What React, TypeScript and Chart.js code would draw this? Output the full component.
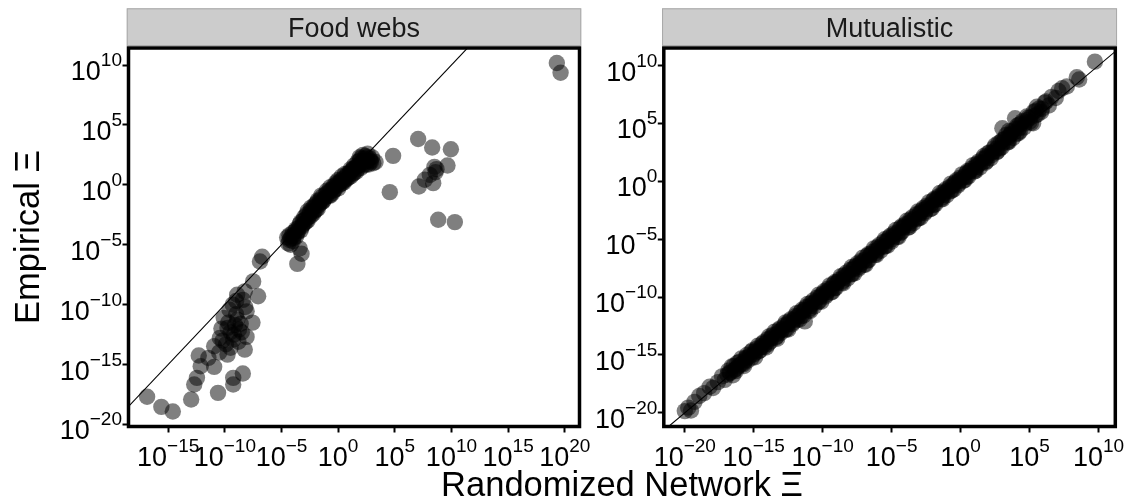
import React, { useEffect, useRef } from "react";
import { Chart, registerables } from "chart.js";

Chart.register(...registerables);

const W = 1130;
const H = 504;
const FONT = '"Liberation Sans", Arial, Helvetica, sans-serif';

// ---------------- data: [log10 randomized Ξ, log10 empirical Ξ] ----------------
const foodWebsLogPoints: [number, number][] = [
  // far right
  [19.3, 10.17], [19.63, 9.36],
  // scattered right-hand group
  [4.56, -0.61], [4.85, 2.42], [7.06, 3.83], [8.3, 3.11], [9.95, 2.97], [9.65, 1.61],
  [8.68, 1.31], [8.5, 1.5], [8.6, 1.05], [8.09, 0.83], [7.65, 0.42], [7.12, -0.14],
  [8.39, 0.14], [8.83, -2.92], [10.3, -3.11],
  // dense band
  [-4.4, -4.9], [-4.2, -4.5], [-4.0, -4.7], [-3.9, -4.2], [-3.8, -3.9], [-3.6, -4.0],
  [-3.5, -3.6], [-3.4, -3.3], [-3.2, -3.5], [-3.1, -3.0], [-2.9, -2.9], [-2.8, -2.5],
  [-2.6, -2.7], [-2.5, -2.3], [-2.3, -2.0], [-2.2, -2.4], [-2.0, -1.8], [-1.9, -1.5],
  [-1.7, -1.7], [-1.6, -1.3], [-1.4, -1.0], [-1.3, -1.3], [-1.1, -0.8], [-0.9, -0.6],
  [-0.8, -0.9], [-0.6, -0.4], [-0.4, -0.1], [-0.3, -0.4], [-0.1, 0.1], [0.1, 0.0],
  [0.2, 0.3], [0.4, 0.5], [0.5, 0.2], [0.7, 0.7], [0.9, 0.6], [1.0, 0.9], [1.2, 1.2],
  [1.3, 0.9], [1.5, 1.4], [1.6, 1.1], [1.8, 1.6], [2.0, 1.4], [2.1, 1.9], [2.3, 2.2],
  [2.5, 1.7], [2.6, 2.0], [2.2, 2.5], [2.9, 1.9], [3.1, 1.8], [1.9, 2.0], [-0.5, -0.7],
  [0.0, -0.3], [-2.1, -2.2], [-3.0, -3.2], [-4.1, -4.3],
  [-4.3, -4.6], [-4.0, -4.0], [-3.7, -3.7], [-3.7, -4.3], [-3.3, -3.8], [-3.3, -3.1],
  [-3.0, -2.7], [-2.7, -3.0], [-2.7, -2.2], [-2.4, -2.6], [-2.4, -1.9], [-2.1, -1.7],
  [-1.8, -2.0], [-1.8, -1.3], [-1.5, -1.5], [-1.5, -0.9], [-1.2, -1.1], [-1.0, -0.5],
  [-0.7, -0.9], [-0.7, -0.2], [-0.4, -0.5], [-0.2, 0.2], [0.0, 0.4], [0.3, 0.1],
  [0.3, 0.7], [0.6, 0.4], [0.6, 0.9], [0.8, 0.9], [1.1, 0.7], [1.1, 1.3], [1.4, 1.0],
  [1.4, 1.6], [1.7, 1.3], [1.7, 1.9], [2.0, 1.7], [2.0, 2.2], [2.4, 1.9], [2.4, 2.4],
  [2.7, 1.7], [2.8, 2.2], [3.3, 1.9], [2.2, 1.6], [-4.5, -4.4], [-4.2, -5.0],
  [-4.3, -4.2], [-3.95, -4.45], [-3.55, -3.85], [-3.15, -3.35], [-2.85, -3.1], [-2.55, -2.5],
  [-2.25, -2.15], [-1.95, -2.1], [-1.65, -1.5], [-1.35, -1.4], [-1.05, -1.0], [-0.75, -0.6],
  [-0.45, -0.3], [-0.15, -0.1], [0.15, 0.2], [0.45, 0.3], [0.75, 0.5], [1.05, 1.05],
  [1.35, 1.35], [1.65, 1.55], [1.95, 1.8], [2.25, 2.0], [2.55, 2.3], [2.85, 2.0],
  [3.0, 2.3], [1.9, 2.3], [2.6, 2.6],
  // just below the band
  [-3.23, -5.75], [-3.6, -6.6], [-3.4, -5.3], [-6.9, -6.4], [-6.7, -6.0],
  // lower cluster
  [-7.5, -8.06], [-8.24, -8.89], [-7.06, -9.3], [-8.91, -9.17], [-8.08, -10.56],
  [-9.59, -10.42], [-10.1, -11.1], [-8.9, -11.25], [-7.56, -11.5], [-9.76, -11.94],
  [-8.75, -12.08], [-10.44, -12.78], [-8.08, -12.69], [-9.26, -12.92], [-10.94, -13.47],
  [-9.76, -14.17], [-8.24, -13.75], [-12.3, -14.25], [-11.45, -14.44], [-12.13, -15.14],
  [-10.94, -15.19], [-8.41, -15.75], [-12.46, -16.11], [-9.26, -16.11], [-12.7, -16.67],
  [-9.26, -16.67], [-10.6, -17.36], [-12.97, -17.92], [-16.86, -17.69], [-15.6, -18.53],
  [-14.59, -18.92], [-9.3, -10.0], [-9.0, -10.8], [-8.6, -11.6], [-9.5, -12.3],
  [-8.4, -9.6], [-10.3, -12.0], [-9.9, -13.3], [-8.8, -13.1], [-10.5, -14.0],
  [-9.0, -9.7], [-9.7, -11.5], [-8.2, -10.2], [-9.2, -12.5], [-8.5, -12.3],
  [-9.5, -13.6], [-10.2, -13.0], [-9.1, -11.7],
];

const mutualisticLogPoints: [number, number][] = [
  [-20.0, -19.85], [-19.75, -19.55], [-19.55, -19.8], [-19.3, -19.05], [-18.95, -18.55],
  [-18.6, -18.3], [-18.2, -17.75], [-17.95, -17.85], [-17.6, -17.35], [-17.3, -16.85],
  [-17.1, -17.15], [-16.85, -16.35], [-16.7, -16.55], [-16.45, -15.95], [-16.3, -16.2],
  [-16.05, -15.6], [-15.85, -15.75], [-15.6, -15.25], [-15.45, -15.5], [-15.2, -14.75],
  [-15.0, -14.95], [-14.8, -14.45], [-14.65, -14.7], [-14.4, -14.05], [-14.25, -14.3],
  [-14.0, -13.65], [-13.8, -13.85], [-13.65, -13.3], [-13.4, -13.5], [-13.2, -12.85],
  [-13.05, -13.1], [-12.8, -12.45], [-12.6, -12.75], [-12.45, -12.1], [-12.2, -12.35],
  [-12.0, -11.65], [-11.85, -11.95], [-11.6, -11.3], [-11.4, -11.6], [-11.3, -12.1],
  [-11.2, -10.85], [-11.0, -11.15], [-10.85, -10.5], [-10.6, -10.8], [-10.4, -10.05],
  [-10.25, -10.35], [-10.0, -9.7], [-9.8, -9.95], [-9.65, -9.3], [-9.4, -9.6],
  [-9.2, -8.85], [-9.05, -9.2], [-8.8, -8.5], [-8.6, -8.75], [-8.45, -8.1],
  [-8.2, -8.4], [-8.0, -7.65], [-7.85, -8.0], [-7.6, -7.3], [-7.4, -7.55],
  [-7.25, -6.9], [-7.0, -7.2], [-6.8, -6.45], [-6.65, -6.8], [-6.4, -6.1],
  [-6.2, -6.35], [-6.05, -5.7], [-5.8, -6.0], [-5.6, -5.25], [-5.45, -5.6],
  [-5.2, -4.85], [-5.0, -5.2], [-4.85, -4.5], [-4.6, -4.8], [-4.4, -4.05],
  [-4.25, -4.35], [-4.0, -3.7], [-3.8, -4.0], [-3.65, -3.3], [-3.4, -3.6],
  [-3.2, -2.85], [-3.05, -3.2], [-2.8, -2.5], [-2.6, -2.75], [-2.45, -2.1],
  [-2.2, -2.4], [-2.0, -1.65], [-1.85, -2.0], [-1.6, -1.3], [-1.4, -1.55],
  [-1.25, -0.9], [-1.0, -1.2], [-0.8, -0.5], [-0.65, -0.8], [-0.4, -0.1],
  [-0.2, -0.35], [-0.05, 0.3], [0.2, 0.05], [0.4, 0.7], [0.55, 0.4],
  [0.8, 1.1], [1.0, 0.85], [1.15, 1.5], [1.4, 1.2], [1.6, 1.95],
  [1.8, 1.6], [1.95, 2.4], [2.2, 2.0], [2.4, 2.85], [2.6, 2.5],
  [2.75, 3.3], [3.0, 2.95], [3.03, 4.59], [3.2, 3.65], [3.4, 3.35],
  [3.5, 4.35], [3.6, 4.0], [3.8, 3.75], [3.95, 5.45], [4.0, 4.55],
  [4.2, 4.15], [4.4, 5.0], [4.6, 4.65], [4.8, 5.6], [5.0, 5.15],
  [5.26, 5.02], [5.53, 6.45], [5.6, 5.8], [5.9, 6.25], [6.1, 6.8],
  [6.4, 6.55], [6.6, 7.3], [6.9, 7.2], [7.1, 7.8], [7.37, 8.04],
  [7.7, 8.2], [8.43, 8.99], [8.6, 8.8], [9.74, 10.34],
  [-16.6, -16.0], [-16.2, -15.7], [-15.9, -15.3], [-15.5, -15.0], [-15.1, -14.6],
  [-14.7, -14.2], [-14.3, -13.9], [-13.9, -13.4], [-13.5, -13.0], [-13.1, -12.7],
  [-12.7, -12.2], [-12.3, -11.9], [-11.9, -11.4], [-11.5, -11.1], [-11.1, -10.6],
  [-10.7, -10.3], [-10.3, -9.8], [-9.9, -9.5], [-9.5, -9.0], [-9.1, -8.7],
  [-8.7, -8.2], [-8.3, -7.9], [-7.9, -7.4], [-7.5, -7.1], [-7.1, -6.6],
  [-6.7, -6.3], [-6.3, -5.8], [-5.9, -5.5], [-5.5, -5.0], [-5.1, -4.7],
  [-4.7, -4.2], [-4.3, -3.9], [-3.9, -3.4], [-3.5, -3.1], [-3.1, -2.6],
  [-2.7, -2.3], [-2.3, -1.8], [-1.9, -1.5], [-1.5, -1.0], [-1.1, -0.7],
  [-0.7, -0.2], [-0.3, 0.1], [0.1, 0.6], [0.5, 0.9], [0.9, 1.4],
  [1.3, 1.7], [1.7, 2.2], [2.1, 2.5], [2.5, 3.1], [2.9, 3.4],
  [3.3, 4.0], [3.7, 4.3], [4.1, 4.8], [4.5, 5.2], [4.9, 5.5],
  [5.3, 6.0], [5.7, 6.3], [6.2, 6.9],
  [-16.5, -16.75], [-15.7, -15.95], [-14.9, -15.2], [-14.1, -14.35], [-13.3, -13.6],
  [-12.5, -12.8], [-11.7, -11.95], [-10.9, -11.2], [-10.1, -10.4], [-9.3, -9.55],
  [-8.5, -8.8], [-7.7, -7.95], [-6.9, -7.2], [-6.1, -6.35], [-5.3, -5.55],
  [-4.5, -4.8], [-3.7, -3.95], [-2.9, -3.15], [-2.1, -2.35], [-1.3, -1.55],
  [-0.5, -0.7], [0.3, 0.1], [1.1, 0.9], [1.9, 1.75], [2.7, 2.6],
  [3.5, 3.4], [4.3, 4.3], [5.1, 5.05],
  [-16.9, -16.7], [-16.4, -16.3], [-16.0, -15.85], [-15.6, -15.45], [-15.3, -15.1],
  [-14.9, -14.8], [-14.5, -14.35], [-14.1, -13.95], [-13.75, -13.6], [-13.35, -13.2],
  [-12.95, -12.8], [-12.55, -12.4], [-12.15, -12.0], [-11.75, -11.6], [-11.35, -11.2],
  [-10.95, -10.8], [-10.55, -10.4], [-10.15, -10.0], [-9.75, -9.6], [-9.35, -9.2],
  [-8.95, -8.8], [-8.55, -8.4], [-8.15, -8.0], [-7.75, -7.6], [-7.35, -7.2],
  [-6.95, -6.8], [-6.55, -6.4], [-6.15, -6.0], [-5.75, -5.6], [-5.35, -5.2],
  [-4.95, -4.8], [-4.55, -4.4], [-4.15, -4.0], [-3.75, -3.6], [-3.35, -3.2],
  [-2.95, -2.8], [-2.55, -2.4], [-2.15, -2.0], [-1.75, -1.6], [-1.35, -1.2],
  [-0.95, -0.8], [-0.55, -0.4], [-0.15, 0.0], [0.25, 0.4], [0.65, 0.8],
  [1.05, 1.2], [1.45, 1.6], [1.85, 2.0], [2.25, 2.45], [2.65, 2.85],
  [3.05, 3.3], [3.45, 3.8], [3.85, 4.2], [4.25, 4.6], [4.65, 5.0],
  [5.05, 5.5], [5.45, 5.7], [5.85, 6.0],
  [-16.75, -16.5], [-16.15, -16.0], [-15.55, -15.3], [-14.95, -14.7], [-14.35, -14.2],
  [-13.75, -13.5], [-13.15, -13.0], [-12.55, -12.3], [-11.95, -11.8], [-11.35, -11.1],
  [-10.75, -10.6], [-10.15, -9.9], [-9.55, -9.4], [-8.95, -8.7], [-8.35, -8.2],
  [-7.75, -7.5], [-7.15, -7.0], [-6.55, -6.3], [-5.95, -5.8], [-5.35, -5.1],
  [-4.75, -4.6], [-4.15, -3.9], [-3.55, -3.4], [-2.95, -2.7], [-2.35, -2.2],
  [-1.75, -1.5], [-1.15, -1.0], [-0.55, -0.3], [0.05, 0.2], [0.65, 0.9],
  [1.25, 1.4], [1.85, 2.1], [2.45, 2.6], [3.05, 3.6], [3.65, 4.1],
  [4.25, 4.9], [4.85, 5.3], [5.45, 6.1],
  [-16.3, -16.4], [-15.75, -15.8], [-15.15, -15.25], [-14.55, -14.6], [-13.95, -14.05],
  [-13.35, -13.4], [-12.75, -12.85], [-12.15, -12.2], [-11.55, -11.65], [-10.95, -11.0],
  [-10.35, -10.45], [-9.75, -9.8], [-9.15, -9.25], [-8.55, -8.6], [-7.95, -8.05],
  [-7.35, -7.4], [-6.75, -6.85], [-6.15, -6.2], [-5.55, -5.65], [-4.95, -5.0],
  [-4.35, -4.45], [-3.75, -3.8], [-3.15, -3.25], [-2.55, -2.6], [-1.95, -2.05],
  [-1.35, -1.4], [-0.75, -0.85], [-0.15, -0.2], [0.45, 0.4], [1.05, 1.0],
  [1.65, 1.65], [2.25, 2.25], [2.85, 2.85], [3.45, 3.5], [4.05, 4.1],
];

const identityLineLog = [-30, 30];

const foodWebsXTicks = [-15, -10, -5, 0, 5, 10, 15, 20];
const foodWebsYTicks = [-20, -15, -10, -5, 0, 5, 10];
const mutualisticXTicks = [-20, -15, -10, -5, 0, 5, 10];
const mutualisticYTicks = [-20, -15, -10, -5, 0, 5, 10];

const foodWebsXLimits = [-18.5, 21.3];
const foodWebsYLimits = [-20.17, 11.42];
const mutualisticXLimits = [-21.5, 11.22];
const mutualisticYLimits = [-21.18, 11.52];

const panelTitles = ["Food webs", "Mutualistic"];
const xAxisTitle = "Randomized Network Ξ";
const yAxisTitle = "Empirical Ξ";

// ---------------- style ----------------
const TICK_SIZE = 27;
const EXP_SIZE = 19;
const EXP_RAISE = 14;
const STRIP_SIZE = 27;
const TITLE_SIZE = 34.5;
const X_AXIS_H = 10;

type Area = { left: number; right: number; top: number; bottom: number };
type PanelCfg = {
  title: string;
  points: [number, number][];
  xTicks: number[];
  yTicks: number[];
  xLim: number[];
  yLim: number[];
  area: Area;
  axisTitles: boolean;
};

function expText(e: number) {
  return e < 0 ? "\u2212" + Math.abs(e) : String(e);
}

function drawPow(ctx: CanvasRenderingContext2D, e: number, x: number, y: number, align: "center" | "right") {
  const base = "10";
  const ex = expText(e);
  ctx.font = `${TICK_SIZE}px ${FONT}`;
  const wb = ctx.measureText(base).width;
  ctx.font = `${EXP_SIZE}px ${FONT}`;
  const we = ctx.measureText(ex).width;
  const w = wb + we;
  const x0 = align === "center" ? x - w / 2 : x - w;
  ctx.textAlign = "left";
  ctx.textBaseline = "alphabetic";
  ctx.font = `${TICK_SIZE}px ${FONT}`;
  ctx.fillText(base, x0, y);
  ctx.font = `${EXP_SIZE}px ${FONT}`;
  ctx.fillText(ex, x0 + wb, y - EXP_RAISE);
}

function panelPlugin(cfg: PanelCfg) {
  return {
    id: "panelDecor",
    afterDraw(chart: any) {
      const ctx: CanvasRenderingContext2D = chart.ctx;
      const a = chart.chartArea;
      ctx.save();
      // panel border
      ctx.strokeStyle = "#000";
      ctx.lineWidth = 3.5;
      ctx.strokeRect(a.left, a.top, a.right - a.left, a.bottom - a.top);
      // strip
      const s0 = a.left - 1.75;
      const s1 = a.right + 1.75;
      ctx.fillStyle = "#cccccc";
      ctx.fillRect(s0, 8.3, s1 - s0, 37.7);
      ctx.strokeStyle = "#a9a9a9";
      ctx.lineWidth = 1;
      ctx.strokeRect(s0 + 0.5, 8.8, s1 - s0 - 1, 36.7);
      ctx.fillStyle = "#1a1a1a";
      ctx.font = `${STRIP_SIZE}px ${FONT}`;
      ctx.textAlign = "center";
      ctx.textBaseline = "alphabetic";
      ctx.fillText(cfg.title, (a.left + a.right) / 2, 37);
      // tick labels
      ctx.fillStyle = "#000";
      const xs = chart.scales.x;
      const ys = chart.scales.y;
      xs.ticks.forEach((t: any) => {
        const e = Math.round(Math.log10(t.value));
        drawPow(ctx, e, xs.getPixelForValue(t.value), a.bottom + 39.5, "center");
      });
      ys.ticks.forEach((t: any) => {
        const e = Math.round(Math.log10(t.value));
        drawPow(ctx, e, a.left - 6.5, ys.getPixelForValue(t.value) + 15, "right");
      });
      // axis titles
      if (cfg.axisTitles) {
        ctx.fillStyle = "#000";
        ctx.font = `${TITLE_SIZE}px ${FONT}`;
        ctx.textAlign = "center";
        ctx.textBaseline = "alphabetic";
        ctx.fillText(xAxisTitle, 622, 496);
        ctx.save();
        ctx.translate(39, 237);
        ctx.rotate(-Math.PI / 2);
        ctx.fillText(yAxisTitle, 0, 0);
        ctx.restore();
      }
      ctx.restore();
    },
  };
}

function makeChart(canvas: HTMLCanvasElement, cfg: PanelCfg) {
  const a = cfg.area;
  const tickGrid = {
    display: true,
    drawOnChartArea: false,
    drawTicks: true,
    tickLength: 6,
    tickWidth: 2,
    tickColor: "#000",
    color: "#000",
  };
  return new Chart(canvas, {
    type: "scatter",
    data: {
      datasets: [
        {
          data: identityLineLog.map((v) => ({ x: 10 ** v, y: 10 ** v })),
          showLine: true,
          borderColor: "#000",
          borderWidth: 1.1,
          pointRadius: 0,
          order: 0,
        },
        {
          data: cfg.points.map(([lx, ly]) => ({ x: 10 ** lx, y: 10 ** ly })),
          backgroundColor: "rgba(0,0,0,0.5)",
          borderWidth: 0,
          pointRadius: 8.2,
          order: 1,
        },
      ],
    } as any,
    options: {
      responsive: false,
      animation: false,
      events: [],
      layout: {
        padding: { left: 0, top: a.top, right: W - a.right, bottom: H - a.bottom - X_AXIS_H },
      },
      plugins: { legend: { display: false }, tooltip: { enabled: false } },
      scales: {
        x: {
          type: "logarithmic",
          position: "bottom",
          min: 10 ** cfg.xLim[0],
          max: 10 ** cfg.xLim[1],
          afterBuildTicks: (s: any) => {
            s.ticks = cfg.xTicks.map((e) => ({ value: 10 ** e }));
          },
          afterFit: (s: any) => {
            s.height = X_AXIS_H;
          },
          ticks: { display: false, autoSkip: false },
          grid: tickGrid,
          border: { display: false },
        },
        y: {
          type: "logarithmic",
          position: "left",
          min: 10 ** cfg.yLim[0],
          max: 10 ** cfg.yLim[1],
          afterBuildTicks: (s: any) => {
            s.ticks = cfg.yTicks.map((e) => ({ value: 10 ** e }));
          },
          afterFit: (s: any) => {
            s.width = a.left;
          },
          ticks: { display: false, autoSkip: false },
          grid: tickGrid,
          border: { display: false },
        },
      },
    } as any,
    plugins: [panelPlugin(cfg)],
  });
}

const foodWebsPanel: PanelCfg = {
  title: panelTitles[0],
  points: foodWebsLogPoints,
  xTicks: foodWebsXTicks,
  yTicks: foodWebsYTicks,
  xLim: foodWebsXLimits,
  yLim: foodWebsYLimits,
  area: { left: 128.5, right: 579.5, top: 48, bottom: 426.5 },
  axisTitles: true,
};

const mutualisticPanel: PanelCfg = {
  title: panelTitles[1],
  points: mutualisticLogPoints,
  xTicks: mutualisticXTicks,
  yTicks: mutualisticYTicks,
  xLim: mutualisticXLimits,
  yLim: mutualisticYLimits,
  area: { left: 663.8, right: 1115.3, top: 48, bottom: 426.5 },
  axisTitles: false,
};

export default function App() {
  const leftRef = useRef<HTMLCanvasElement>(null);
  const rightRef = useRef<HTMLCanvasElement>(null);
  useEffect(() => {
    const c1 = makeChart(leftRef.current!, foodWebsPanel);
    const c2 = makeChart(rightRef.current!, mutualisticPanel);
    return () => {
      c1.destroy();
      c2.destroy();
    };
  }, []);
  const cs: React.CSSProperties = { position: "absolute", left: 0, top: 0, width: W, height: H };
  return (
    <div style={{ position: "fixed", left: 0, top: 0, width: W, height: H, background: "#fff" }}>
      <canvas ref={leftRef} width={W} height={H} style={cs} />
      <canvas ref={rightRef} width={W} height={H} style={cs} />
    </div>
  );
}
